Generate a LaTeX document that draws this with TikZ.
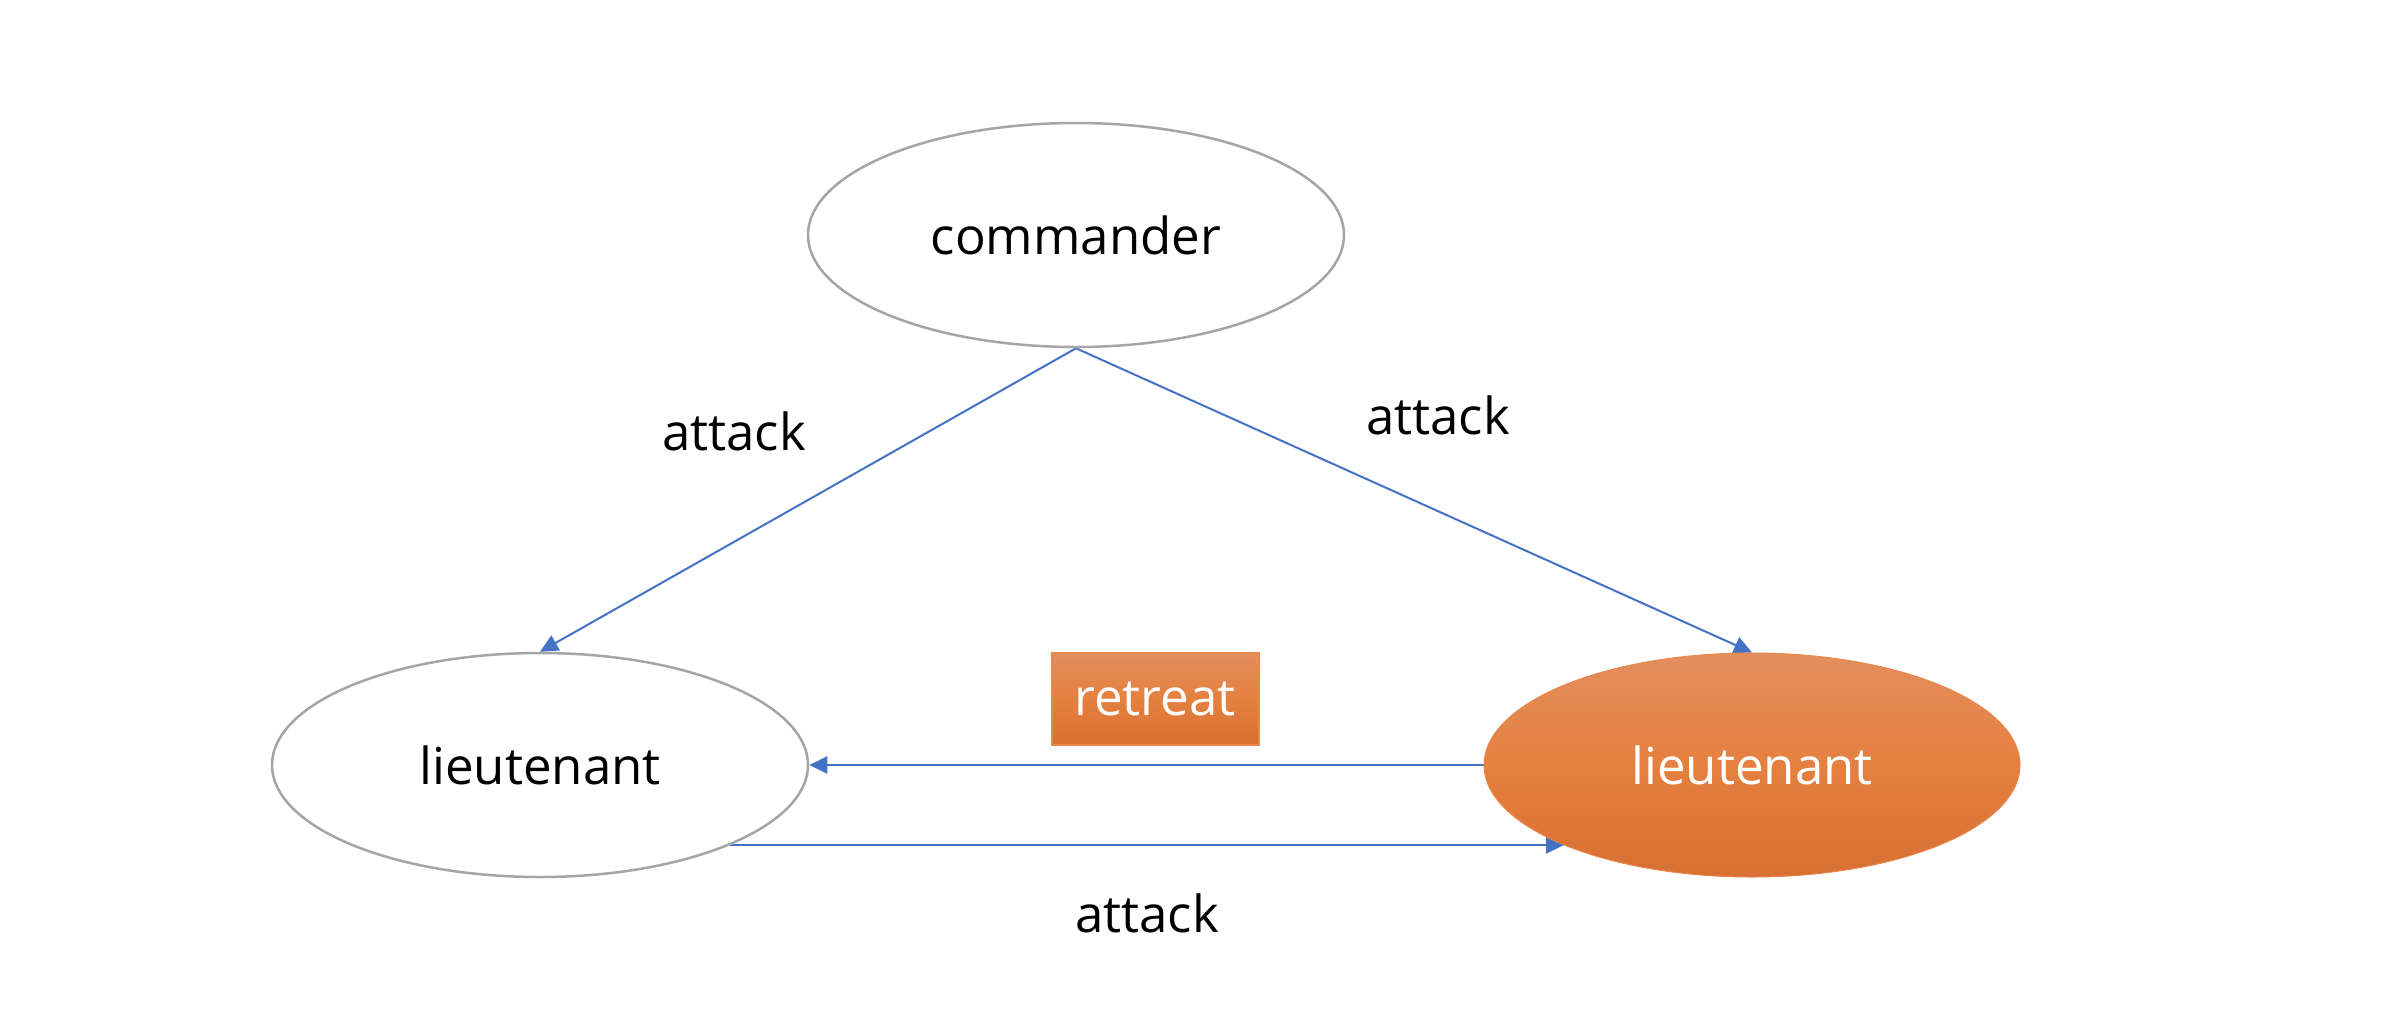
\documentclass[tikz,border=0pt]{standalone}
\usepackage{fontspec}
\setmainfont{Open Sans}
\usetikzlibrary{shapes.geometric,arrows.meta,backgrounds}
\definecolor{ellgray}{HTML}{A5A5A5}
\definecolor{arrblue}{HTML}{4472C4}
\definecolor{orTop}{HTML}{E38E5F}
\definecolor{orMid}{HTML}{E5803F}
\definecolor{orBot}{HTML}{D96F33}
\definecolor{orEdge}{HTML}{E9864A}
\tikzset{
  plainell/.style={ellipse, draw=ellgray, line width=2.5pt, fill=white,
    minimum width=536pt, minimum height=224pt, inner sep=0pt,
    font=\fontsize{51}{60}\selectfont},
  orangeell/.style={ellipse, draw=orEdge, line width=1pt, top color=orTop, bottom color=orBot, middle color=orMid,
    minimum width=536pt, minimum height=224pt, inner sep=0pt, text=white,
    font=\fontsize{51}{60}\selectfont},
  retbox/.style={rectangle, draw=orEdge, line width=2pt, top color=orTop, bottom color=orBot, middle color=orMid,
    minimum width=207pt, minimum height=92pt, inner sep=0pt, text=white,
    font=\fontsize{51}{60}\selectfont},
  lbl/.style={font=\fontsize{51}{60}\selectfont, inner sep=0pt},
  conn/.style={draw=arrblue, line width=2pt, -{Triangle[length=18pt,width=17pt]}, arrblue}
}
\begin{document}
\begin{tikzpicture}[x=1pt,y=-1pt]
\useasboundingbox (0,0) rectangle (2382,1034);
\node[plainell] (cmd) at (1076,235) {commander};
\node[plainell] (lt1) at (540,765) {lieutenant};
\node[orangeell] (lt2) at (1752,765) {lieutenant};
\node[retbox] (ret) at (1155,699) {retreat};
\coordinate (a1) at (730,845);
\coordinate (a2) at (1564,845);
\begin{pgfonlayer}{background}
\fill[white] (0,0) rectangle (2382,1034);
\draw[conn] (cmd.south) -- (lt1.north);
\draw[conn] (cmd.south) -- (lt2.north);
\draw[conn] (lt2.west) -- (lt1.east);
\draw[conn] (a1) -- (a2);
\end{pgfonlayer}
\node[lbl] (l1) at (734,431) {attack};
\node[lbl] (l2) at (1438,415) {attack};
\node[lbl] (l3) at (1147,913) {attack};
\end{tikzpicture}
\end{document}
